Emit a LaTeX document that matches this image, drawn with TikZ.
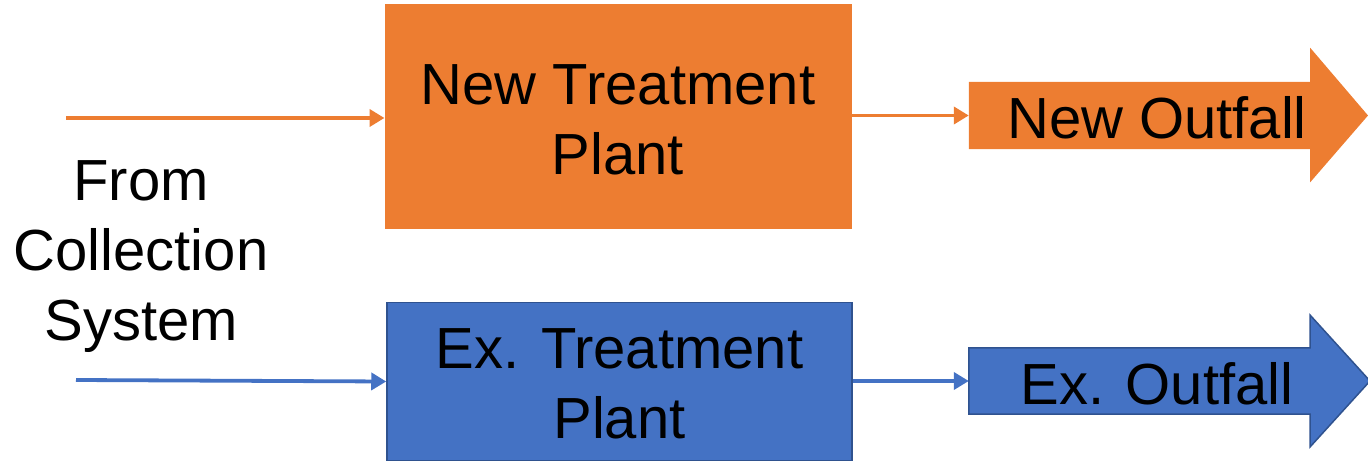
\documentclass[tikz,border=0pt]{standalone}
\usepackage{fontspec}
\setmainfont{Liberation Sans}
\usetikzlibrary{arrows.meta}
\definecolor{ora}{HTML}{ED7D31}
\definecolor{blu}{HTML}{4472C4}
\definecolor{bluedge}{HTML}{2F528F}
\begin{document}
\begin{tikzpicture}[x=1pt,y=-1pt,
  lbl/.style={font=\fontsize{58}{70}\selectfont, text=black, align=center, inner sep=0pt},
  obox/.style={rectangle, fill=ora, draw=ora, line width=1pt, inner sep=0pt},
  bbox/.style={rectangle, fill=blu, draw=bluedge, line width=1.5pt, inner sep=0pt},
  ocon/.style={draw=ora, line width=3.8pt, -{Triangle[length=15pt,width=17pt]}},
  bcon/.style={draw=blu, line width=3.8pt, -{Triangle[length=15pt,width=17pt]}}]
\useasboundingbox (0,0) rectangle (1368,462);
% treatment plants
\node[obox, minimum width=466pt, minimum height=224pt] (ntp) at (618,117) {};
\node[lbl] at (618,120) {New Treatment\\Plant};
\node[bbox, minimum width=465pt, minimum height=158pt] (etp) at (619.5,381.5) {};
\node[lbl] at (619.5,384) {Ex. Treatment\\Plant};
% outfall block arrows (body nodes)
\node[rectangle, minimum width=341pt, minimum height=67pt, inner sep=0pt] (nout) at (1139.5,115.5) {};
\fill[ora] (nout.north west) -- (nout.north east) -- ++(0,-34) -- (1368,115.5) -- (1310,182.5) -- (nout.south east) -- (nout.south west) -- cycle;
\node[lbl] at (1157,118) {New Outfall};
\node[rectangle, minimum width=341pt, minimum height=66pt, inner sep=0pt] (eout) at (1139.5,381) {};
\filldraw[fill=blu, draw=bluedge, line width=1.5pt, line join=miter] (eout.north west) -- (eout.north east) -- (1310,315) -- (1370,381) -- (1310,447) -- (eout.south east) -- (eout.south west) -- cycle;
\node[lbl] at (1157,384) {Ex. Outfall};
% source label
\node[lbl] (src) at (141,257) {From\\Collection\\System};
% connectors
\coordinate (oin) at (66,118);
\coordinate (bin) at (76,380);
\draw[ocon] (oin) -- (oin -| ntp.west);
\draw[ocon] (nout.west -| ntp.east) -- (nout.west);
\draw[bcon] (bin) -- (etp.west);
\draw[bcon] (eout.west -| etp.east) -- (eout.west);
\end{tikzpicture}
\end{document}
